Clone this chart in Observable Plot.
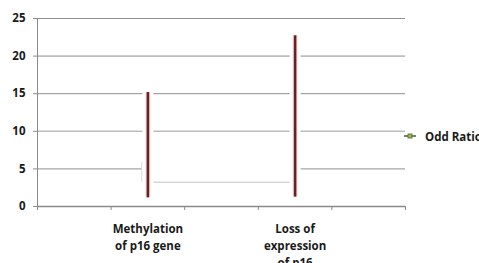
<!DOCTYPE html>
<html><head><meta charset="utf-8">
<script src="https://cdn.jsdelivr.net/npm/d3@7"></script>
<script src="https://cdn.jsdelivr.net/npm/@observablehq/plot@0.6"></script>
<style>
body{margin:0;background:#fff;overflow:hidden;}
#wrap{position:relative;width:479px;height:263px;font-family:"Open Sans",sans-serif;}
#wrap svg text{font-weight:700;}
#legend{position:absolute;left:404px;top:127px;display:flex;align-items:center;font-weight:700;font-size:11.5px;color:#1a1a1a;white-space:nowrap;}
</style></head>
<body><div id="wrap"><div id="legend"><svg width="21" height="18"><line x1="0" x2="12" y1="9" y2="9" stroke="#4a5a35" stroke-width="1.5"/><rect x="4" y="7" width="4" height="4" fill="#9bbb59" stroke="#4f6228" stroke-width="0.8"/></svg><span>Odd Ratio</span></div></div>
<script>
// slots along the category axis (five bins, two labelled)
const slots = ["", "Methylation of p16 gene", "", "Loss of expression of p16", ""];
const categories = ["Methylation of p16 gene", "Loss of expression of p16"];
const tickLabels = ["Methylation\nof p16 gene", "Loss of\nexpression\nof p16"];
const lowerCI = [1.15, 1.25];
const upperCI = [15.15, 22.7];
const oddRatio = [3.23, 3.23];
const oddRatioUpper = [5.9, 5.9];
const yTicks = [0, 5, 10, 15, 20, 25];

const pos = categories.map(c => slots.indexOf(c) + 0.5);
const bars = categories.map((c, i) => ({c, x: pos[i], lo: lowerCI[i], hi: upperCI[i]}));
const band = [{x1: pos[0], x2: pos[1], y1: oddRatio[0], y2: oddRatioUpper[0]}];
const labelOf = new Map(pos.map((p, i) => [p, tickLabels[i]]));

const chart = Plot.plot({
  width: 479, height: 263,
  marginLeft: 37, marginRight: 74, marginTop: 18, marginBottom: 57,
  style: {fontFamily: "'Open Sans', sans-serif", background: "white"},
  x: {domain: [0, slots.length]},
  y: {domain: [0, 25]},
  marks: [
    Plot.ruleY([5, 15, 25], {stroke: "#8f8f8f", strokeWidth: 1}),
    Plot.ruleY([10, 20], {stroke: "#bdbdbd", strokeWidth: 1.6}),
    Plot.rect(band, {x1: "x1", x2: "x2", y1: "y1", y2: "y2", fill: "white", insetLeft: -6}),
    Plot.ruleY(band, {x1: "x1", x2: "x2", y: "y1", stroke: "#c4c4c4", strokeWidth: 1}),
    Plot.ruleX(band, {x: "x1", y1: "y1", y2: "y2", dx: -6, stroke: "#d0d0d0", strokeWidth: 1}),
    Plot.ruleX(bars, {x: "x", y1: "lo", y2: "hi", stroke: "white", strokeWidth: 11}),
    Plot.ruleX(bars, {x: "x", y1: "lo", y2: "hi", stroke: "#f3dede", strokeWidth: 5}),
    Plot.ruleX(bars, {x: "x", y1: "lo", y2: "hi", stroke: "#6b1f1f", strokeWidth: 2.6}),
    Plot.ruleX([0], {stroke: "#8a8a8a", strokeWidth: 1}),
    Plot.ruleY([0], {stroke: "#8a8a8a", strokeWidth: 1.4}),
    Plot.axisY({ticks: yTicks, tickSize: 4, tickPadding: 8, stroke: "#8a8a8a", fontWeight: "bold", fontSize: 11.5, fill: "#1a1a1a", label: null}),
    Plot.axisX({ticks: d3.range(0, slots.length + 1), tickSize: 4, stroke: "#8a8a8a", tickFormat: () => "", label: null}),
    Plot.axisX({ticks: pos, tickSize: 0, tickPadding: 15, tickFormat: d => labelOf.get(d), fontWeight: "bold", fontSize: 11.5, fill: "#1a1a1a", lineHeight: 1.45, label: null})
  ]
});
document.getElementById("wrap").prepend(chart);
chart.style.position = "absolute"; chart.style.left = "0"; chart.style.top = "0";
</script>
</body></html>
